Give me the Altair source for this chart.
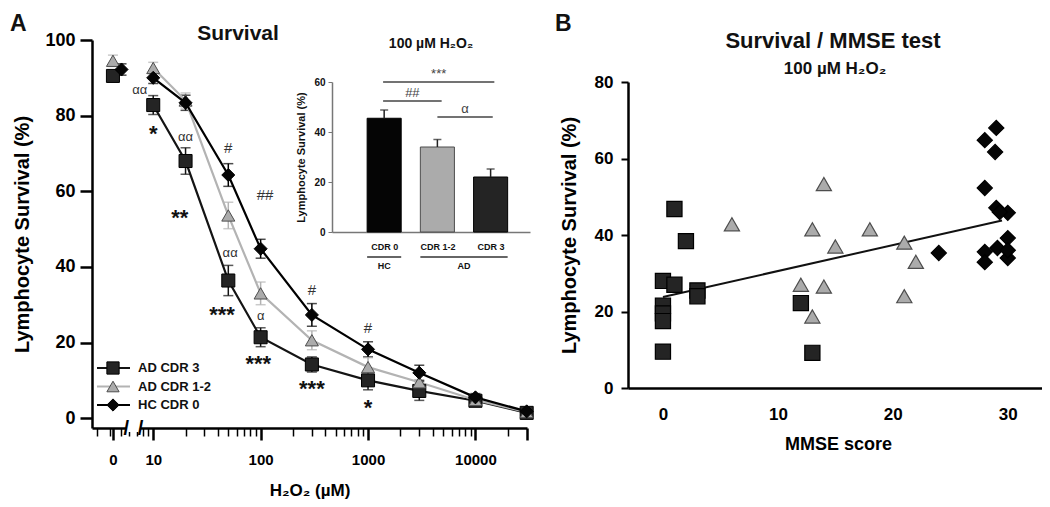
import json
import math
import altair as alt
import pandas as pd

FONT = "Liberation Sans, Arial, sans-serif"

# ---------------- Panel A : survival curves ----------------
SERIES = ["AD CDR 3", "AD CDR 1-2", "HC CDR 0"]
CONC = [0, 10, 20, 50, 100, 300, 1000, 3000, 10000, 30000]
SURV_AD3 = [90.5, 82.8, 68.0, 36.4, 21.4, 14.2, 10.0, 7.2, 4.6, 1.4]
SURV_AD12 = [94.5, 92.6, 84.0, 53.6, 33.0, 20.6, 13.5, 9.5, 4.8, 1.6]
SURV_HC = [92.2, 90.0, 83.4, 64.3, 44.8, 27.3, 18.2, 12.0, 5.5, 1.8]
SEM_AD3 = [1.5, 2.5, 3.5, 4.0, 2.5, 2.0, 2.5, 2.5, 1.0, 1.0]
SEM_AD12 = [1.5, 1.5, 2.0, 3.5, 3.0, 2.5, 2.5, 2.0, 1.0, 1.0]
SEM_HC = [1.5, 1.5, 2.0, 3.0, 2.5, 3.0, 2.0, 2.0, 1.0, 0.8]

ANN_TEXT = ["αα", "*", "αα", "**", "#", "##", "αα", "***", "α", "***", "#", "***", "#", "*"]
ANN_CONC = [7.5, 10, 20, 17.7, 50, 110, 52, 43.7, 100, 95, 300, 300, 1000, 1000]
ANN_Y = [86.8, 76.7, 74.3, 54.5, 71.4, 59.0, 43.7, 28.8, 27.0, 15.9, 33.9, 9.3, 23.8, 4.2]

ZERO_POS = 0.625  # axis position standing for concentration 0 (before the axis break)
HC_ZERO_DODGE = 0.08  # the HC point at 0 is drawn slightly to the right in the original
MAJOR_POS = [ZERO_POS, 1, 2, 3, 4]
MAJOR_LABELS = ["0", "10", "100", "1000", "10000"]
END_POS = math.log10(30000)
BREAK_CONC = [5.6, 7.6]

# inset bar chart (100 µM H2O2)
INSET_GROUP = ["CDR 0", "CDR 1-2", "CDR 3"]
INSET_SERIES = ["HC CDR 0", "AD CDR 1-2", "AD CDR 3"]
INSET_VAL = [45.5, 34.0, 22.0]
INSET_SEM = [3.3, 3.0, 3.2]
SIG_TEXT = ["***", "##", "α"]
SIG_FROM = [0.98, 0.98, 2.0]
SIG_TO = [3.07, 2.08, 3.04]
SIG_Y = [60.0, 52.4, 46.0]
GROUP_LABEL = ["HC", "AD"]
GROUP_FIRST = ["CDR 0", "CDR 1-2"]
GROUP_LAST = ["CDR 0", "CDR 3"]

# ---------------- Panel B : survival vs MMSE ----------------
B_AD3_X = [0, 0, 0, 0, 0, 1, 1, 2, 3, 3, 12, 13]
B_AD3_Y = [28.0, 21.5, 19.5, 17.5, 9.5, 27.0, 46.8, 38.4, 25.5, 24.0, 22.2, 9.2]
B_AD12_X = [6, 12, 13, 13, 14, 14, 15, 18, 21, 21, 22]
B_AD12_Y = [42.8, 27.0, 41.5, 18.7, 53.3, 26.5, 37.0, 41.5, 38.0, 24.0, 33.0]
B_HC_X = [29, 28, 28.9, 28, 29, 30, 29.3, 30, 29.1, 28, 30, 28, 24, 30]
B_HC_Y = [68.0, 64.8, 61.7, 52.3, 47.1, 45.8, 46.0, 39.2, 36.6, 35.6, 34.0, 32.9, 35.3, 36.0]
FIT_X = [0, 29.5]
FIT_Y = [23.8, 43.8]

# ---------------- styles / scales ----------------
shape_enc = alt.Shape("series:N", scale=alt.Scale(domain=SERIES, range=["square", "triangle-up", "diamond"]), legend=None)
fill_enc = alt.Fill("series:N", scale=alt.Scale(domain=SERIES, range=["#242424", "#ababab", "#050505"]), legend=None)
stroke_enc = alt.Stroke("series:N", scale=alt.Scale(domain=SERIES, range=["#000000", "#4d4d4d", "#000000"]), legend=None)
color_enc = alt.Color("series:N", scale=alt.Scale(domain=SERIES, range=["#141414", "#b3b3b3", "#000000"]), legend=None)

xA = alt.Scale(domain=[0.43, 4.48], range=[0, 435], nice=False, zero=False)
yA = alt.Scale(domain=[-2.6, 100], range=[388, 0], nice=False, zero=False)
xI = alt.Scale(domain=[0.02, 3.74], range=[240, 438], nice=False, zero=False)
yI = alt.Scale(domain=[0, 60], range=[192, 42], nice=False, zero=False)
xB = alt.Scale(domain=[-3.04, 33.5], range=[536, 956], nice=False, zero=False)
yB = alt.Scale(domain=[0, 80], range=[348, 42], nice=False, zero=False)

minor = [math.log10(k * 10 ** d) for d in range(0, 4) for k in range(2, 10)]
minor = [m for m in minor if 0.43 <= m <= 4.48] + [math.log10(20000)]
tick_values = MAJOR_POS + [END_POS] + minor
label_expr = " : ".join(f"datum.value == {p} ? '{l}'" for p, l in zip(MAJOR_POS, MAJOR_LABELS)) + " : ''"
major_test = " || ".join(f"datum.value == {p}" for p in MAJOR_POS) + " || datum.value > 4.4"

axis_common = dict(grid=False, domainColor="black", tickColor="black", labelColor="black",
                   titleColor="black", labelFont=FONT, titleFont=FONT,
                   labelFontWeight="bold", titleFontWeight="bold")

axisAx = alt.Axis(orient="bottom", values=tick_values, labelExpr=label_expr, zindex=0,
                  tickSize={"condition": {"test": major_test, "value": 12}, "value": 8},
                  tickWidth={"condition": {"test": major_test, "value": 2.5}, "value": 1.5},
                  domainWidth=2.5, labelFontSize=15, labelPadding=12, labelFlush=False,
                  labelOverlap=False, title="H₂O₂ (µM)", titleFontSize=17, titlePadding=15,
                  **axis_common)
axisAy = alt.Axis(orient="left", values=[0, 20, 40, 60, 80, 100], tickSize=12, tickWidth=2.5,
                  domainWidth=2.5, labelFontSize=18, labelPadding=5,
                  title="Lymphocyte Survival (%)", titleFontSize=20, titlePadding=12, **axis_common)

leaves = []

# ---------------- Panel A layers ----------------
dfA = pd.DataFrame({
    "conc": CONC * 3,
    "surv": SURV_AD3 + SURV_AD12 + SURV_HC,
    "sem": SEM_AD3 + SEM_AD12 + SEM_HC,
    "series": [s for s in SERIES for _ in CONC],
})
baseA = alt.Chart(dfA).transform_calculate(
    pos=(f"datum.conc == 0 ? {ZERO_POS} + (datum.series == '{SERIES[2]}' ? {HC_ZERO_DODGE} : 0)"
         " : log(datum.conc) / LN10"),
    lo="datum.surv - datum.sem",
    hi="datum.surv + datum.sem",
)
xpos = alt.X("pos:Q", scale=xA, axis=None)

leaves.append(baseA.mark_rule(strokeWidth=1.5).encode(
    x=xpos, y=alt.Y("lo:Q", scale=yA, axis=None), y2="hi:Q", color=color_enc))
leaves.append(baseA.mark_tick(orient="horizontal", size=10, thickness=1.5).encode(
    x=xpos, y=alt.Y("lo:Q", scale=yA, axis=None), color=color_enc))
leaves.append(baseA.mark_tick(orient="horizontal", size=10, thickness=1.5).encode(
    x=xpos, y=alt.Y("hi:Q", scale=yA, axis=None), color=color_enc))
leaves.append(baseA.transform_filter("datum.conc > 0").mark_line(strokeWidth=2.2).encode(
    x=alt.X("pos:Q", scale=xA, axis=axisAx),
    y=alt.Y("surv:Q", scale=yA, axis=axisAy),
    color=color_enc, detail="series:N",
))
leaves.append(baseA.mark_point(filled=True, opacity=1, size=170, strokeWidth=1).encode(
    x=xpos, y=alt.Y("surv:Q", scale=yA, axis=None),
    shape=shape_enc, fill=fill_enc, stroke=stroke_enc))

ann = pd.DataFrame({"t": ANN_TEXT, "conc": ANN_CONC, "y": ANN_Y})
annb = alt.Chart(ann).transform_calculate(pos="log(datum.conc) / LN10")
ann_enc = dict(x=alt.X("pos:Q", scale=xA, axis=None), y=alt.Y("y:Q", scale=yA, axis=None), text="t:N")
leaves.append(annb.transform_filter("indexof(datum.t, '*') >= 0").mark_text(
    font=FONT, fontSize=22, fontWeight="bold", color="#111", dy=6, baseline="middle").encode(**ann_enc))
leaves.append(annb.transform_filter("indexof(datum.t, 'α') >= 0").mark_text(
    font=FONT, fontSize=13, color="#333", baseline="middle").encode(**ann_enc))
leaves.append(annb.transform_filter("indexof(datum.t, '#') >= 0").mark_text(
    font=FONT, fontSize=15, color="#333", baseline="middle").encode(**ann_enc))

brk = pd.DataFrame({"c0": [BREAK_CONC[0]], "c1": [BREAK_CONC[1]]})
brkb = alt.Chart(brk).transform_calculate(p0="log(datum.c0)/LN10", p1="log(datum.c1)/LN10", yb="-2.6")
leaves.append(brkb.mark_rule(color="white", strokeWidth=8).encode(
    x=alt.X("p0:Q", scale=xA, axis=None), x2="p1:Q", y=alt.Y("yb:Q", scale=yA, axis=None)))
for fld in ["p0", "p1"]:
    leaves.append(brkb.mark_text(text="/", font=FONT, fontSize=20, fontWeight="bold",
                                 baseline="middle", dy=1).encode(
        x=alt.X(f"{fld}:Q", scale=xA, axis=None), y=alt.Y("yb:Q", scale=yA, axis=None)))

# ---------------- Inset ----------------
grp_js = json.dumps(INSET_GROUP)
dfI = pd.DataFrame({"grp": INSET_GROUP, "series": INSET_SERIES, "val": INSET_VAL, "sem": INSET_SEM})
baseI = alt.Chart(dfI).transform_calculate(
    pos=f"indexof({grp_js}, datum.grp) + 1",
    x0=f"indexof({grp_js}, datum.grp) + 1 - 0.32",
    x1=f"indexof({grp_js}, datum.grp) + 1 + 0.32",
    zero="0",
    hi="datum.val + datum.sem",
)
inset_label_expr = f"{json.dumps([''] + INSET_GROUP)}[datum.value]"
axisIx = alt.Axis(orient="bottom", offset=-196, values=[1, 2, 3], labelExpr=inset_label_expr,
                  ticks=False, domainColor="#777", domainWidth=1.5, labelColor="#111",
                  labelFont=FONT, labelFontWeight="bold", labelFontSize=9, labelPadding=10,
                  title="", grid=False)
axisIy = alt.Axis(orient="left", offset=-240, values=[0, 20, 40, 60], tickSize=4,
                  domainColor="#777", tickColor="#777", domainWidth=1.5, labelColor="#111",
                  labelFont=FONT, labelFontWeight="bold", labelFontSize=10, labelPadding=3,
                  title="Lymphocyte Survival (%)", titleFont=FONT, titleFontWeight="bold",
                  titleFontSize=11, titlePadding=7, titleColor="#111", grid=False)
leaves.append(baseI.mark_rect(strokeWidth=1).encode(
    x=alt.X("x0:Q", scale=xI, axis=axisIx), x2="x1:Q",
    y=alt.Y("zero:Q", scale=yI, axis=axisIy), y2="val:Q",
    fill=fill_enc, stroke=stroke_enc))
leaves.append(baseI.mark_rule(strokeWidth=1.5, color="#222").encode(
    x=alt.X("pos:Q", scale=xI, axis=None), y=alt.Y("val:Q", scale=yI, axis=None), y2="hi:Q"))
leaves.append(baseI.mark_tick(orient="horizontal", size=8, thickness=1.5, color="#222").encode(
    x=alt.X("pos:Q", scale=xI, axis=None), y=alt.Y("hi:Q", scale=yI, axis=None)))

sig = pd.DataFrame({"t": SIG_TEXT, "a": SIG_FROM, "b": SIG_TO, "y": SIG_Y})
sigb = alt.Chart(sig).transform_calculate(m="(datum.a + datum.b) / 2")
leaves.append(sigb.mark_rule(strokeWidth=1.5, color="#444").encode(
    x=alt.X("a:Q", scale=xI, axis=None), x2="b:Q", y=alt.Y("y:Q", scale=yI, axis=None)))
leaves.append(sigb.mark_text(font=FONT, fontSize=13, color="#444", dy=-8, baseline="middle").encode(
    x=alt.X("m:Q", scale=xI, axis=None), y=alt.Y("y:Q", scale=yI, axis=None), text="t:N"))

grpdf = pd.DataFrame({"label": GROUP_LABEL, "first": GROUP_FIRST, "last": GROUP_LAST})
grpb = alt.Chart(grpdf).transform_calculate(
    a=f"indexof({grp_js}, datum.first) + 1 - 0.32",
    b=f"indexof({grp_js}, datum.last) + 1 + 0.32",
    m=f"(indexof({grp_js}, datum.first) + indexof({grp_js}, datum.last)) / 2 + 1",
)
leaves.append(grpb.mark_rule(strokeWidth=1.5, color="#333").encode(
    x=alt.X("a:Q", scale=xI, axis=None), x2="b:Q", y=alt.value(217)))
leaves.append(grpb.mark_text(font=FONT, fontSize=9, fontWeight="bold", color="#111", baseline="middle").encode(
    x=alt.X("m:Q", scale=xI, axis=None), y=alt.value(226), text="label:N"))

# ---------------- Legend of panel A ----------------
legY = alt.Scale(type="point", domain=SERIES, range=[328, 365], padding=0)
leg = alt.Chart(pd.DataFrame({"series": SERIES}))
leaves.append(leg.mark_rule(strokeWidth=2).encode(
    x=alt.value(5), x2=alt.value(38), y=alt.Y("series:N", scale=legY, axis=None), color=color_enc))
leaves.append(leg.mark_point(filled=True, opacity=1, size=150, strokeWidth=1).encode(
    x=alt.value(21), y=alt.Y("series:N", scale=legY, axis=None),
    shape=shape_enc, fill=fill_enc, stroke=stroke_enc))
leaves.append(leg.mark_text(align="left", baseline="middle", font=FONT, fontSize=13, fontWeight="bold",
                            color="#111").encode(
    x=alt.value(46), y=alt.Y("series:N", scale=legY, axis=None), text="series:N"))

# ---------------- Panel B ----------------
dfB = pd.DataFrame({
    "mmse": B_AD3_X + B_AD12_X + B_HC_X,
    "surv": B_AD3_Y + B_AD12_Y + B_HC_Y,
    "series": [SERIES[0]] * len(B_AD3_X) + [SERIES[1]] * len(B_AD12_X) + [SERIES[2]] * len(B_HC_X),
})
axisBx = alt.Axis(orient="bottom", offset=-40, values=[0, 10, 20, 30], tickSize=0, domainWidth=2.5,
                  labelFontSize=17, labelPadding=18, title="MMSE score", titleFontSize=18,
                  titlePadding=13, **axis_common)
axisBy = alt.Axis(orient="left", offset=-536, values=[0, 20, 40, 60, 80], tickSize=7, tickWidth=2,
                  domainWidth=2.5, labelFontSize=17, labelPadding=8,
                  title="Lymphocyte Survival (%)", titleFontSize=20, titlePadding=15, **axis_common)
leaves.append(alt.Chart(pd.DataFrame({"mmse": FIT_X, "surv": FIT_Y})).mark_line(color="#111", strokeWidth=2).encode(
    x=alt.X("mmse:Q", scale=xB, axis=None), y=alt.Y("surv:Q", scale=yB, axis=None)))
leaves.append(alt.Chart(dfB).mark_point(filled=True, opacity=1, size=230, strokeWidth=1.2).encode(
    x=alt.X("mmse:Q", scale=xB, axis=axisBx),
    y=alt.Y("surv:Q", scale=yB, axis=axisBy),
    shape=shape_enc, fill=fill_enc, stroke=stroke_enc))

# ---------------- Titles / panel letters ----------------
def label(txt, x, y, size, align="center"):
    return alt.Chart(pd.DataFrame({"t": [txt]})).mark_text(
        font=FONT, fontSize=size, fontWeight="bold", color="#111", align=align, baseline="alphabetic"
    ).encode(x=alt.value(x), y=alt.value(y), text="t:N")

leaves += [
    label("A", -82, -9, 23, "left"),
    label("Survival", 146, 0, 21),
    label("100 µM H₂O₂", 339, 8, 14),
    label("B", 463, -9, 23, "left"),
    label("Survival / MMSE test", 741, 8, 22),
    label("100 µM H₂O₂", 743, 34, 17),
]

chart = alt.layer(*leaves).resolve_scale(
    x="independent", y="independent"
).properties(
    width=950, height=388,
    autosize=alt.AutoSizeParams(type="none"),
    padding={"left": 84, "top": 32, "right": 0, "bottom": 71},
).configure_view(stroke="transparent").configure_axis(grid=False)

chart.save("out.html", embed_options={"renderer": "svg", "actions": False})
